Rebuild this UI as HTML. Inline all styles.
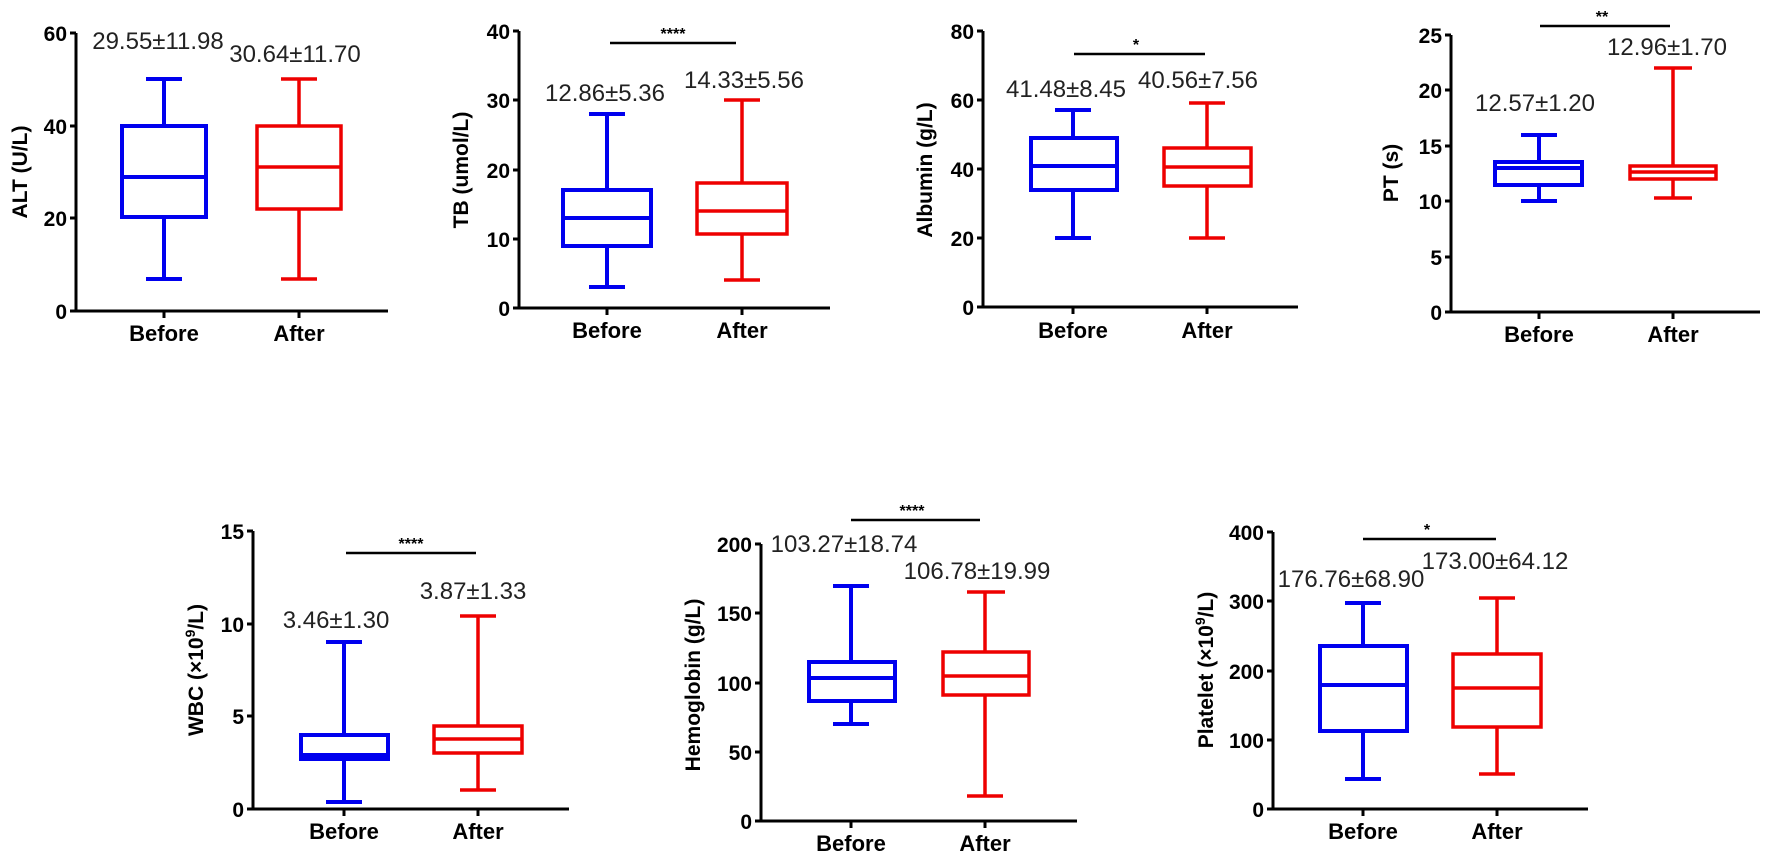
<!DOCTYPE html>
<html><head><meta charset="utf-8"><style>
html,body{margin:0;padding:0;background:#fff;}
svg{display:block;}
text{font-family:"Liberation Sans",Arial,sans-serif;}
.t{font-size:21px;font-weight:bold;text-anchor:end;}
.x{font-size:22px;font-weight:bold;text-anchor:middle;}
.yl{font-size:21px;font-weight:bold;text-anchor:middle;}
.a{font-size:24px;text-anchor:middle;fill:#222;}
.s{font-size:16px;text-anchor:middle;font-weight:bold;}
.ax{stroke:#000;stroke-width:3;fill:none;}
.b{stroke:#0000ee;stroke-width:4;fill:none;}
.r{stroke:#ee0000;stroke-width:3.5;fill:none;}
.sig{stroke:#000;stroke-width:2.5;}
</style></head><body>
<svg width="1772" height="862" viewBox="0 0 1772 862" xmlns="http://www.w3.org/2000/svg">

<!-- Panel 1 ALT -->
<g>
<path class="ax" d="M76 33 V311 H388 M70 33 H76 M70 126 H76 M70 218 H76 M70 311 H76 M164 311 V318 M299 311 V318"/>
<text class="t" x="67" y="41">60</text><text class="t" x="67" y="134">40</text><text class="t" x="67" y="226">20</text><text class="t" x="67" y="319">0</text>
<text class="yl" transform="translate(27,172) rotate(-90)">ALT (U/L)</text>
<text class="x" x="164" y="341">Before</text><text class="x" x="299" y="341">After</text>
<path class="b" d="M164 79 V126 M164 217 V279 M146 79 H182 M146 279 H182 M122 177 H206"/><rect class="b" x="122" y="126" width="84" height="91"/>
<path class="r" d="M299 79 V126 M299 209 V279 M281 79 H317 M281 279 H317 M257 167 H341"/><rect class="r" x="257" y="126" width="84" height="83"/>
<text class="a" x="158" y="49">29.55±11.98</text><text class="a" x="295" y="62">30.64±11.70</text>
</g>

<!-- Panel 2 TB -->
<g>
<path class="ax" d="M519 31 V308 H830 M513 31 H519 M513 100 H519 M513 170 H519 M513 239 H519 M513 308 H519 M607 308 V315 M742 308 V315"/>
<text class="t" x="510" y="39">40</text><text class="t" x="510" y="108">30</text><text class="t" x="510" y="178">20</text><text class="t" x="510" y="247">10</text><text class="t" x="510" y="316">0</text>
<text class="yl" transform="translate(468,170) rotate(-90)">TB (umol/L)</text>
<text class="x" x="607" y="338">Before</text><text class="x" x="742" y="338">After</text>
<path class="b" d="M607 114 V190 M607 246 V287 M589 114 H625 M589 287 H625 M563 218 H651"/><rect class="b" x="563" y="190" width="88" height="56"/>
<path class="r" d="M742 100 V183 M742 234 V280 M724 100 H760 M724 280 H760 M697 211 H787"/><rect class="r" x="697" y="183" width="90" height="51"/>
<path class="sig" d="M610 43 H736"/><text class="s" x="673" y="39">****</text>
<text class="a" x="605" y="101">12.86±5.36</text><text class="a" x="744" y="88">14.33±5.56</text>
</g>

<!-- Panel 3 Albumin -->
<g>
<path class="ax" d="M983 31 V307 H1298 M977 31 H983 M977 100 H983 M977 169 H983 M977 238 H983 M977 307 H983 M1073 307 V314 M1207 307 V314"/>
<text class="t" x="974" y="39">80</text><text class="t" x="974" y="108">60</text><text class="t" x="974" y="177">40</text><text class="t" x="974" y="246">20</text><text class="t" x="974" y="315">0</text>
<text class="yl" transform="translate(932,170) rotate(-90)">Albumin (g/L)</text>
<text class="x" x="1073" y="338">Before</text><text class="x" x="1207" y="338">After</text>
<path class="b" d="M1073 110 V138 M1073 190 V238 M1055 110 H1091 M1055 238 H1091 M1031 166 H1117"/><rect class="b" x="1031" y="138" width="86" height="52"/>
<path class="r" d="M1207 103 V148 M1207 186 V238 M1189 103 H1225 M1189 238 H1225 M1164 167 H1251"/><rect class="r" x="1164" y="148" width="87" height="38"/>
<path class="sig" d="M1074 54 H1205"/><text class="s" x="1136" y="50">*</text>
<text class="a" x="1066" y="97">41.48±8.45</text><text class="a" x="1198" y="88">40.56±7.56</text>
</g>

<!-- Panel 4 PT -->
<g>
<path class="ax" d="M1451 35 V312 H1760 M1445 35 H1451 M1445 90 H1451 M1445 146 H1451 M1445 201 H1451 M1445 257 H1451 M1445 312 H1451 M1539 312 V319 M1673 312 V319"/>
<text class="t" x="1442" y="43">25</text><text class="t" x="1442" y="98">20</text><text class="t" x="1442" y="154">15</text><text class="t" x="1442" y="209">10</text><text class="t" x="1442" y="265">5</text><text class="t" x="1442" y="320">0</text>
<text class="yl" transform="translate(1398,173) rotate(-90)">PT (s)</text>
<text class="x" x="1539" y="342">Before</text><text class="x" x="1673" y="342">After</text>
<path class="b" d="M1539 135 V162 M1539 185 V201 M1521 135 H1557 M1521 201 H1557 M1495 168 H1582"/><rect class="b" x="1495" y="162" width="87" height="23"/>
<path class="r" d="M1673 68 V166 M1673 179 V198 M1654 68 H1692 M1654 198 H1692 M1630 172 H1716"/><rect class="r" x="1630" y="166" width="86" height="13" stroke-width="5"/>
<path class="sig" d="M1540 26 H1670"/><text class="s" x="1602" y="22">**</text>
<text class="a" x="1535" y="111">12.57±1.20</text><text class="a" x="1667" y="55">12.96±1.70</text>
</g>

<!-- Panel 5 WBC -->
<g>
<path class="ax" d="M253 531 V809 H569 M247 531 H253 M247 624 H253 M247 716 H253 M247 809 H253 M344 809 V816 M478 809 V816"/>
<text class="t" x="244" y="539">15</text><text class="t" x="244" y="632">10</text><text class="t" x="244" y="724">5</text><text class="t" x="244" y="817">0</text>
<text class="yl" transform="translate(203,670) rotate(-90)">WBC (×10<tspan font-size="14" dy="-8">9</tspan><tspan dy="8">/L)</tspan></text>
<text class="x" x="344" y="839">Before</text><text class="x" x="478" y="839">After</text>
<path class="b" d="M344 642 V735 M344 759 V802 M326 642 H362 M326 802 H362 M301 755 H388"/><rect class="b" x="301" y="735" width="87" height="24"/>
<path class="r" d="M478 616 V726 M478 753 V790 M460 616 H496 M460 790 H496 M434 739 H522"/><rect class="r" x="434" y="726" width="88" height="27"/>
<path class="sig" d="M346 553 H476"/><text class="s" x="411" y="549">****</text>
<text class="a" x="336" y="628">3.46±1.30</text><text class="a" x="473" y="599">3.87±1.33</text>
</g>

<!-- Panel 6 Hemoglobin -->
<g>
<path class="ax" d="M761 544 V821 H1077 M755 544 H761 M755 613 H761 M755 683 H761 M755 752 H761 M755 821 H761 M851 821 V828 M985 821 V828"/>
<text class="t" x="752" y="552">200</text><text class="t" x="752" y="621">150</text><text class="t" x="752" y="691">100</text><text class="t" x="752" y="760">50</text><text class="t" x="752" y="829">0</text>
<text class="yl" transform="translate(700,685) rotate(-90)">Hemoglobin (g/L)</text>
<text class="x" x="851" y="851">Before</text><text class="x" x="985" y="851">After</text>
<path class="b" d="M851 586 V662 M851 701 V724 M833 586 H869 M833 724 H869 M809 678 H895"/><rect class="b" x="809" y="662" width="86" height="39" stroke-width="5"/>
<path class="r" d="M985 592 V652 M985 695 V796 M967 592 H1005 M967 796 H1003 M943 676 H1029"/><rect class="r" x="943" y="652" width="86" height="43"/>
<path class="sig" d="M851 520 H980"/><text class="s" x="912" y="516">****</text>
<text class="a" x="844" y="552">103.27±18.74</text><text class="a" x="977" y="579">106.78±19.99</text>
</g>

<!-- Panel 7 Platelet -->
<g>
<path class="ax" d="M1273 532 V809 H1588 M1267 532 H1273 M1267 601 H1273 M1267 671 H1273 M1267 740 H1273 M1267 809 H1273 M1363 809 V816 M1497 809 V816"/>
<text class="t" x="1264" y="540">400</text><text class="t" x="1264" y="609">300</text><text class="t" x="1264" y="679">200</text><text class="t" x="1264" y="748">100</text><text class="t" x="1264" y="817">0</text>
<text class="yl" transform="translate(1213,670) rotate(-90)">Platelet (×10<tspan font-size="14" dy="-8">9</tspan><tspan dy="8">/L)</tspan></text>
<text class="x" x="1363" y="839">Before</text><text class="x" x="1497" y="839">After</text>
<path class="b" d="M1363 603 V646 M1363 731 V779 M1345 603 H1381 M1345 779 H1381 M1320 685 H1407"/><rect class="b" x="1320" y="646" width="87" height="85"/>
<path class="r" d="M1497 598 V654 M1497 727 V774 M1479 598 H1515 M1479 774 H1515 M1453 688 H1541"/><rect class="r" x="1453" y="654" width="88" height="73"/>
<path class="sig" d="M1363 539 H1496"/><text class="s" x="1427" y="535">*</text>
<text class="a" x="1351" y="587">176.76±68.90</text><text class="a" x="1495" y="569">173.00±64.12</text>
</g>
</svg>
</body></html>
